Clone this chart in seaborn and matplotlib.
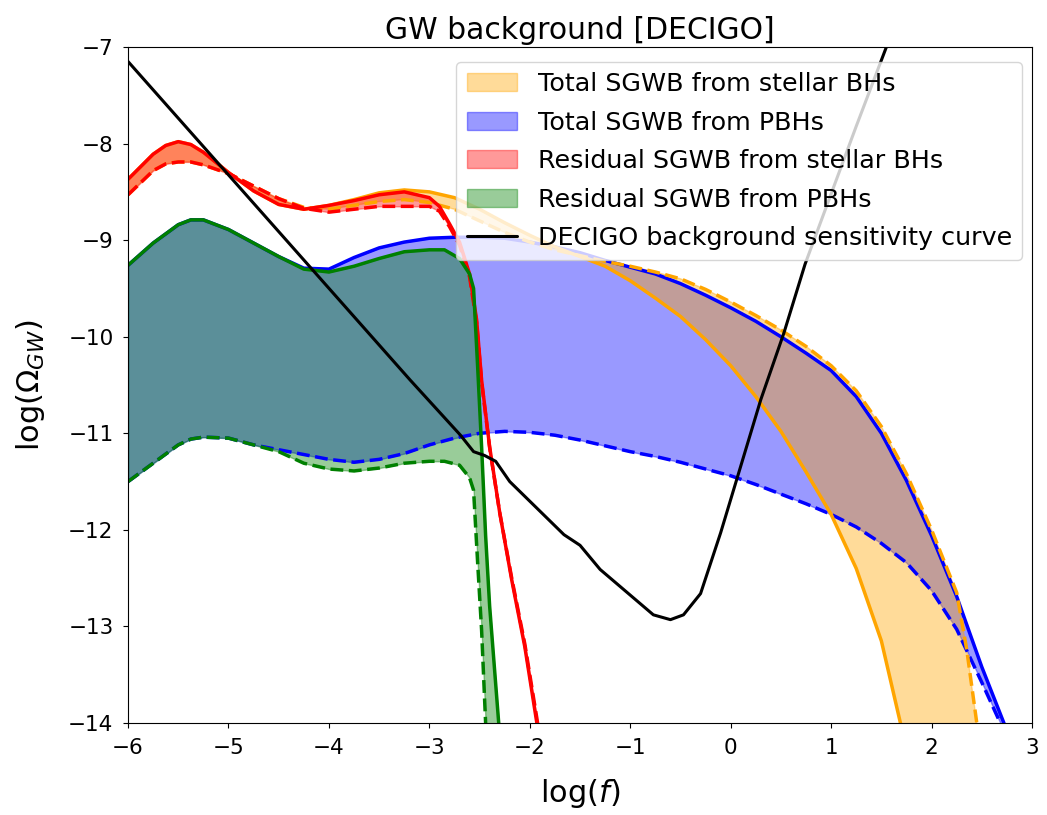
import numpy as np
import matplotlib
matplotlib.use("Agg")
import matplotlib.pyplot as plt
import seaborn as sns

# total SGWB from PBHs (blue band)
x_pbh = [-6.0, -5.75, -5.5, -5.375, -5.25, -5.0, -4.75, -4.5, -4.25, -4.0, -3.75, -3.5, -3.25,
         -3.0, -2.75, -2.5, -2.25, -2.0, -1.75, -1.5, -1.25, -1.0, -0.75, -0.5, -0.25,
         0.0, 0.25, 0.5, 0.75, 1.0, 1.25, 1.5, 1.75, 2.0, 2.25, 2.5, 2.75]
pbh_hi = [-9.26, -9.03, -8.84, -8.79, -8.79, -8.89, -9.03, -9.17, -9.29, -9.30, -9.18, -9.08, -9.02,
          -8.98, -8.97, -8.97, -8.98, -9.02, -9.07, -9.13, -9.21, -9.28, -9.35, -9.45, -9.57,
          -9.70, -9.84, -10.0, -10.17, -10.35, -10.62, -11.0, -11.49, -12.06, -12.69, -13.42, -14.08]
pbh_lo = [-11.50, -11.31, -11.12, -11.06, -11.04, -11.05, -11.12, -11.17, -11.22, -11.27, -11.30, -11.27, -11.21,
          -11.12, -11.05, -11.00, -10.98, -10.99, -11.02, -11.07, -11.13, -11.19, -11.24, -11.30, -11.37,
          -11.44, -11.53, -11.63, -11.73, -11.84, -11.97, -12.14, -12.34, -12.63, -13.03, -13.58, -14.15]

# total SGWB from stellar BHs (orange band)
x_st = [-6.0, -5.75, -5.625, -5.5, -5.375, -5.25, -5.0, -4.75, -4.5, -4.25, -4.0, -3.75, -3.5, -3.25,
        -3.0, -2.75, -2.5, -2.25, -2.0, -1.75, -1.5, -1.25, -1.0, -0.75, -0.5, -0.25,
        0.0, 0.25, 0.5, 0.75, 1.0, 1.25, 1.5, 1.75, 2.0, 2.25, 2.35, 2.45, 2.55]
st_a = [-8.37, -8.11, -8.02, -7.98, -8.01, -8.09, -8.30, -8.49, -8.63, -8.68, -8.64, -8.58, -8.51, -8.48,
        -8.50, -8.56, -8.68, -8.82, -8.95, -9.07, -9.17, -9.27, -9.42, -9.60, -9.79, -10.03,
        -10.30, -10.62, -10.98, -11.40, -11.84, -12.40, -13.15, -14.27, -15.5, -16.5, -17.0, -17.5, -18.0]
st_b = [-8.53, -8.28, -8.21, -8.19, -8.19, -8.22, -8.31, -8.44, -8.57, -8.66, -8.68, -8.64, -8.60, -8.58,
        -8.61, -8.68, -8.80, -8.92, -9.02, -9.10, -9.16, -9.22, -9.27, -9.33, -9.40, -9.51,
        -9.64, -9.78, -9.93, -10.10, -10.30, -10.56, -10.93, -11.42, -12.0, -12.65, -13.24, -14.0, -14.7]

# residual SGWB from stellar BHs (red band)
x_rst = [-6.0, -5.75, -5.625, -5.5, -5.375, -5.25, -5.0, -4.75, -4.5, -4.25, -4.0, -3.75, -3.5, -3.25,
         -3.0, -2.9, -2.8, -2.7, -2.6, -2.53, -2.48, -2.4, -2.3, -2.18, -2.05, -1.93, -1.85]
rst_a = [-8.37, -8.11, -8.02, -7.98, -8.01, -8.09, -8.30, -8.49, -8.63, -8.68, -8.64, -8.59, -8.53, -8.50,
         -8.56, -8.65, -8.83, -9.02, -9.35, -9.82, -10.45, -11.14, -11.82, -12.52, -13.21, -14.0, -14.5]
rst_b = [-8.53, -8.28, -8.21, -8.19, -8.19, -8.22, -8.31, -8.44, -8.57, -8.67, -8.71, -8.68, -8.65, -8.65,
         -8.65, -8.70, -8.86, -9.05, -9.38, -9.85, -10.47, -11.15, -11.82, -12.50, -13.18, -13.95, -14.5]

# residual SGWB from PBHs (green band)
x_rpbh = [-6.0, -5.75, -5.5, -5.375, -5.25, -5.0, -4.75, -4.5, -4.25, -4.0, -3.75, -3.5, -3.25,
          -3.0, -2.85, -2.7, -2.6, -2.56, -2.52, -2.48, -2.44, -2.4, -2.35, -2.3]
rpbh_hi = [-9.26, -9.03, -8.84, -8.79, -8.79, -8.89, -9.03, -9.17, -9.30, -9.33, -9.27, -9.19, -9.12,
           -9.10, -9.10, -9.19, -9.35, -9.50, -10.30, -11.14, -12.06, -12.79, -13.46, -14.13]
rpbh_lo = [-11.50, -11.31, -11.12, -11.06, -11.04, -11.05, -11.12, -11.19, -11.31, -11.37, -11.39, -11.36, -11.31,
           -11.29, -11.29, -11.33, -11.46, -11.59, -12.33, -13.04, -14.0, -14.6, -15.3, -16.0]

# DECIGO background sensitivity curve
x_dec = [-6.0, -3.19, -2.69, -2.56, -2.45, -2.34, -2.20, -1.66, -1.50, -1.30, -0.77, -0.60,
         -0.47, -0.30, -0.10, 0.30, 0.53, 0.74, 1.0, 1.25, 1.55, 1.8]
y_dec = [-7.15, -10.45, -11.02, -11.19, -11.23, -11.29, -11.50, -12.05, -12.16, -12.41, -12.88, -12.93,
         -12.88, -12.66, -12.03, -10.65, -9.96, -9.25, -8.52, -7.82, -7.0, -6.3]

sns.set_style("ticks", {"axes.edgecolor": "black", "text.color": "black",
                        "xtick.color": "black", "ytick.color": "black",
                        "axes.labelcolor": "black"})
plt.rcParams['font.family'] = ['DejaVu Sans']

fig, ax = plt.subplots(figsize=(10.47, 8.15), dpi=100)
fig.subplots_adjust(left=0.1223, right=0.9857, bottom=0.1129, top=0.9423)

lw = 2.5
bands = [
    (x_pbh, pbh_hi, pbh_lo, "blue", "Total SGWB from PBHs"),
    (x_st, st_a, st_b, "orange", "Total SGWB from stellar BHs"),
    (x_rst, rst_a, rst_b, "red", "Residual SGWB from stellar BHs"),
    (x_rpbh, rpbh_hi, rpbh_lo, "green", "Residual SGWB from PBHs"),
]
handles = {}
for xs, a, b, c, lab in bands:
    sns.lineplot(x=xs, y=a, color=c, lw=lw, sort=False, estimator=None, ax=ax)
    sns.lineplot(x=xs, y=b, color=c, lw=lw, linestyle="--", sort=False, estimator=None, ax=ax)
    handles[lab] = ax.fill_between(xs, a, b, color=c, alpha=0.4, label=lab)

sns.lineplot(x=x_dec, y=y_dec, color="black", lw=2.2, sort=False, estimator=None, ax=ax)
dec_line = ax.lines[-1]
dec_line.set_label("DECIGO background sensitivity curve")

ax.set_xlim(-6, 3)
ax.set_ylim(-14, -7)
ax.tick_params(labelsize=15.5, pad=7)
ax.set_xlabel(r"log($f$)", fontsize=22, labelpad=14)
ax.set_ylabel(r"log($\Omega_{GW}$)", fontsize=22, labelpad=15)
ax.set_title("GW background [DECIGO]", fontsize=21.5)

order = ["Total SGWB from stellar BHs", "Total SGWB from PBHs",
         "Residual SGWB from stellar BHs", "Residual SGWB from PBHs"]
ax.legend([handles[k] for k in order] + [dec_line],
          order + ["DECIGO background sensitivity curve"],
          loc="upper right", bbox_to_anchor=(0.989, 0.978), borderaxespad=0,
          fontsize=18.3, labelspacing=0.57)

fig.savefig("out.png", dpi=100)
